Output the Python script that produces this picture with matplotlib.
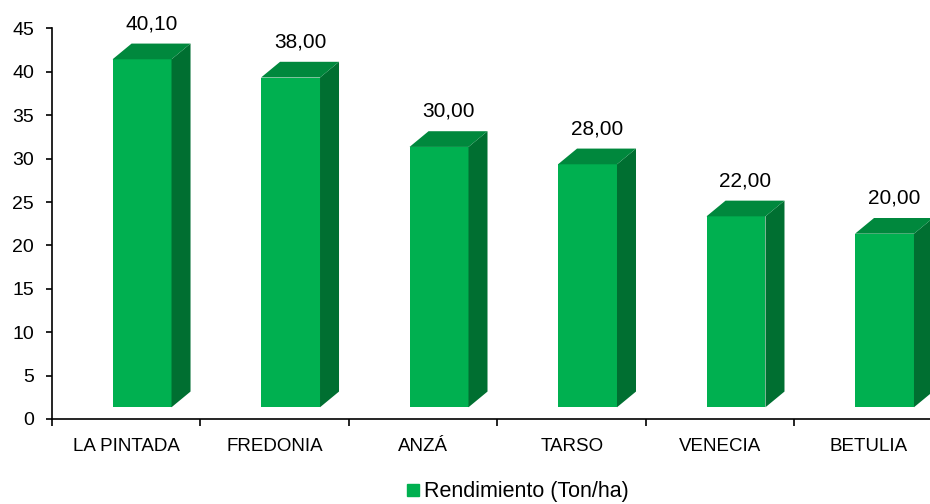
import matplotlib
matplotlib.use('Agg')
import matplotlib.pyplot as plt
from matplotlib.patches import Polygon
from matplotlib.lines import Line2D

plt.rcParams['font.family'] = ['Liberation Sans', 'DejaVu Sans']

# datos
municipios = ['LA PINTADA', 'FREDONIA', 'ANZÁ', 'TARSO', 'VENECIA', 'BETULIA']
rendimiento = [40.10, 38.00, 30.00, 28.00, 22.00, 20.00]
etiquetas = ['40,10', '38,00', '30,00', '28,00', '22,00', '20,00']

# colores de las caras de la barra
c_frente = '#00B050'
c_tapa = '#00883D'
c_lado = '#006F31'

fig = plt.figure(figsize=(9.3, 5.04), dpi=100)
ax = fig.add_axes([0.0559, 0.1687, 0.958, 0.7748])

# geometria del efecto 3D (en unidades de datos)
base = 1.35
izq = -0.092
ancho = 0.397
dx = 0.128
dy = 1.81

for i, v in enumerate(rendimiento):
    x0 = i + izq
    x1 = x0 + ancho
    top = base + v
    ax.bar(x0, v, width=ancho, bottom=base, align='edge', color=c_frente, zorder=3)
    lado = Polygon([(x1, base), (x1 + dx, base + dy), (x1 + dx, top + dy), (x1, top)],
                   closed=True, facecolor=c_lado, edgecolor='none', zorder=3)
    tapa = Polygon([(x0, top), (x0 + dx, top + dy), (x1 + dx, top + dy), (x1, top)],
                   closed=True, facecolor=c_tapa, edgecolor='none', zorder=3)
    ax.add_patch(lado)
    ax.add_patch(tapa)
    ax.annotate(etiquetas[i], xy=((x0 + x1 + dx) / 2, top + dy), xytext=(0, 7.5),
                textcoords='offset points', ha='center', va='bottom', fontsize=15)

ax.set_xlim(-0.5, 5.5)
ax.set_ylim(0, 45)
ax.set_yticks(range(0, 46, 5))
ax.set_xticks(range(len(municipios)))
ax.set_xticklabels(municipios)
ax.set_xticks([i - 0.5 for i in range(len(municipios) + 1)], minor=True)

ax.tick_params(axis='x', which='major', length=0, pad=14, labelsize=13.5)
ax.tick_params(axis='x', which='minor', length=5, width=1.2, direction='out')
ax.tick_params(axis='y', length=4, width=1.2, pad=9, labelsize=14)

for s in ['top', 'right']:
    ax.spines[s].set_visible(False)
ax.spines['left'].set_linewidth(1.2)
ax.spines['bottom'].set_linewidth(1.2)

handle = Line2D([], [], marker='s', linestyle='none', color=c_frente, markersize=8)
fig.legend([handle], ['Rendimiento (Ton/ha)'], loc='center',
           bbox_to_anchor=(517 / 930, 12 / 504), frameon=False, fontsize=15.5,
           handlelength=0.7, handletextpad=0.15, borderpad=0)

fig.savefig('out.png', dpi=100)
